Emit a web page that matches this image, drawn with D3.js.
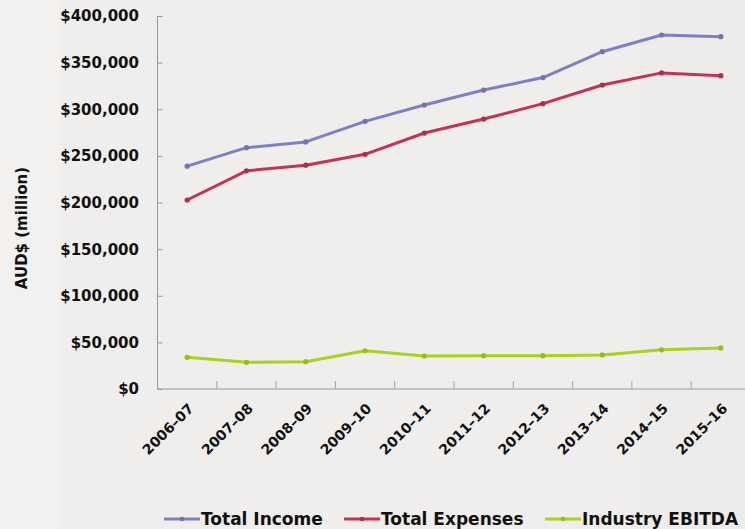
<!DOCTYPE html>
<html><head><meta charset="utf-8">
<script src="https://cdn.jsdelivr.net/npm/d3@7"></script>
<style>
html,body{margin:0;padding:0;background:#efeeed;}
svg{display:block;}
</style></head>
<body>
<svg id="chart" width="745" height="529"></svg>
<script>
const categories = ["2006–07","2007–08","2008–09","2009–10","2010–11","2011–12","2012–13","2013–14","2014–15","2015–16"];
const totalIncome = [239000,258800,265000,287000,304500,320600,334000,361700,379600,377800];
const totalExpenses = [202700,234000,240000,251700,274500,289500,306000,326000,339000,336000];
const industryEBITDA = [34000,28600,29300,41000,35400,35700,35700,36500,42000,44000];
const seriesNames = ["Total Income","Total Expenses","Industry EBITDA"];
const yTicks = [0,50000,100000,150000,200000,250000,300000,350000,400000];

(function(){
const colors = ["#7e80c6","#c2325c","#a8d21c"];
const series = [totalIncome,totalExpenses,industryEBITDA].map((v,i)=>({name:seriesNames[i],values:v,color:colors[i]}));

const svg = d3.select("#chart");
const font = "'DejaVu Sans', sans-serif";

// background
const bg = svg.append("g");
bg.append("rect").attr("width",745).attr("height",529).attr("fill","#efeeed");
bg.append("rect").attr("x",0).attr("y",0).attr("width",60).attr("height",529).attr("fill","#f2f1f0");
bg.append("rect").attr("x",640).attr("y",0).attr("width",105).attr("height",529).attr("fill","#edecea");

const pLeft = 157.5, pBottom = 389, pTop = 16;
const x = d3.scaleBand().domain(categories).range([pLeft, pLeft + 59.3*10]);
const y = d3.scaleLinear().domain([0,400000]).range([pBottom, pTop]);

// y axis
const yAxis = d3.axisRight(y).tickValues(yTicks).tickSize(5).tickFormat("");
const yg = svg.append("g").attr("transform",`translate(${pLeft},0)`).call(yAxis);
yg.select(".domain").attr("stroke","#9a9a9a").attr("d",`M0,${pTop}V${pBottom}`);
yg.selectAll(".tick line").attr("stroke","#9a9a9a");

svg.append("g").selectAll("text").data(yTicks).join("text")
  .attr("x",139).attr("y",d=>y(d)).attr("dy","0.36em")
  .attr("text-anchor","end")
  .attr("font-family",font).attr("font-weight","bold").attr("font-size",15)
  .attr("fill","#111")
  .text(d=>d3.format("$,")(d));

// x axis
const xg = svg.append("g").attr("transform",`translate(0,${pBottom})`);
xg.append("line").attr("x1",pLeft).attr("x2",745).attr("y1",0).attr("y2",0).attr("stroke","#9a9a9a");
xg.selectAll("line.tk").data(categories.slice(1)).join("line").attr("class","tk")
  .attr("x1",d=>x(d)).attr("x2",d=>x(d)).attr("y1",0).attr("y2",-8).attr("stroke","#a5a5a5");
xg.selectAll("text").data(categories).join("text")
  .attr("transform",d=>`translate(${x(d)+x.bandwidth()/2},${13}) rotate(-45)`)
  .attr("text-anchor","end").attr("dy","0.75em")
  .attr("font-family",font).attr("font-weight","bold").attr("font-size",14)
  .attr("fill","#111")
  .text(d=>d);

// y label
svg.append("text")
  .attr("transform","translate(27,228) rotate(-90)")
  .attr("text-anchor","middle")
  .attr("font-family",font).attr("font-weight","bold").attr("font-size",15)
  .attr("fill","#111")
  .text("AUD$ (million)");

// lines
const line = d3.line().x((d,i)=>x(categories[i])+x.bandwidth()/2).y(d=>y(d));
series.forEach(s=>{
  svg.append("path").attr("d",line(s.values)).attr("fill","none")
    .attr("stroke",s.color).attr("stroke-width",3).attr("stroke-linejoin","round");
  svg.append("g").selectAll("circle").data(s.values).join("circle")
    .attr("cx",(d,i)=>x(categories[i])+x.bandwidth()/2).attr("cy",d=>y(d))
    .attr("r",2.6).attr("fill",d3.color(s.color).darker(0.3));
});

// legend
const legendX = [164,344,545];
const lg = svg.append("g").attr("transform","translate(0,519)");
series.forEach((s,i)=>{
  const g = lg.append("g").attr("transform",`translate(${legendX[i]},0)`);
  g.append("line").attr("x1",0).attr("x2",36).attr("y1",0).attr("y2",0).attr("stroke",s.color).attr("stroke-width",3);
  g.append("circle").attr("cx",18).attr("cy",0).attr("r",2.3).attr("fill",d3.color(s.color).darker(0.3));
  g.append("text").attr("x",37).attr("y",0).attr("dy","0.36em")
    .attr("font-family",font).attr("font-weight","bold").attr("font-size",17)
    .attr("fill","#111").text(s.name);
});
})();
</script>
</body></html>
